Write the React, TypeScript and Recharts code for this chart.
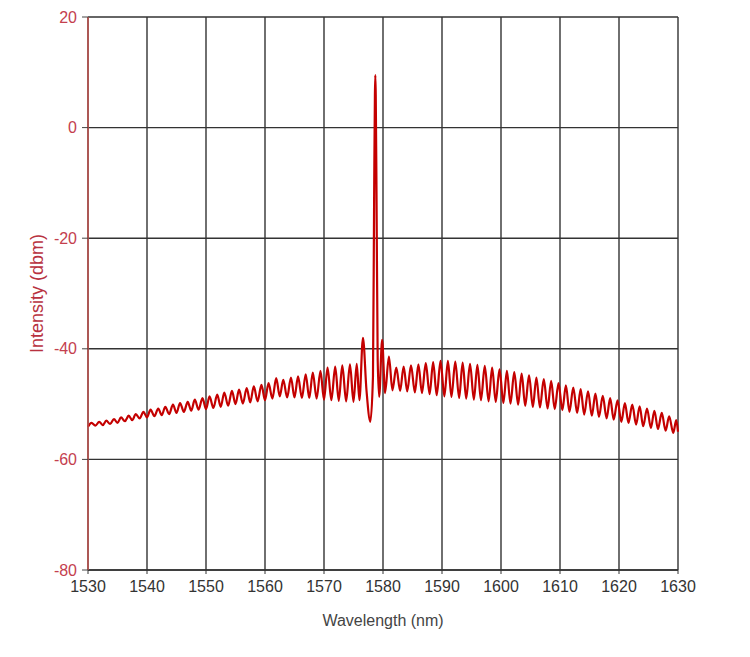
import React from "react";
import {
  LineChart,
  Line,
  XAxis,
  YAxis,
  CartesianGrid,
} from "recharts";

// wavelength (nm) of each read point: troughs and crests of the ripple
const wavelengths = [
  1530, 1530.6, 1531.25, 1531.9, 1532.5, 1533.1, 1533.75, 1534.4, 1535, 1535.6,
  1536.25, 1536.9, 1537.5, 1538.1, 1538.75, 1539.4, 1540, 1540.6, 1541.25, 1541.9,
  1542.5, 1543.1, 1543.75, 1544.4, 1545, 1545.6, 1546.25, 1546.9, 1547.5, 1548.1,
  1548.75, 1549.4, 1550, 1550.6, 1551.25, 1551.9, 1552.5, 1553.1, 1553.75, 1554.4,
  1555, 1555.6, 1556.25, 1556.9, 1557.5, 1558.1, 1558.75, 1559.4, 1560, 1560.6,
  1561.25, 1561.9, 1562.5, 1563.1, 1563.75, 1564.4, 1565, 1565.6, 1566.25, 1566.9,
  1567.5, 1568.1, 1568.75, 1569.4, 1570, 1570.6, 1571.25, 1571.9, 1572.5, 1573.1,
  1573.75, 1574.4, 1575, 1575.55, 1576.0, 1576.6, 1577.2, 1577.85,
  1578.3, 1578.5, 1578.63, 1578.7, 1578.77, 1578.9, 1579.1, 1579.35,
  1579.85, 1580.35, 1581.0, 1581.6,
  1582.25, 1582.9, 1583.5, 1584.1, 1584.75, 1585.4, 1586, 1586.6, 1587.25, 1587.9,
  1588.5, 1589.1, 1589.75, 1590.4, 1591, 1591.6, 1592.25, 1592.9, 1593.5, 1594.1,
  1594.75, 1595.4, 1596, 1596.6, 1597.25, 1597.9, 1598.5, 1599.1, 1599.75, 1600.4,
  1601, 1601.6, 1602.25, 1602.9, 1603.5, 1604.1, 1604.75, 1605.4, 1606, 1606.6,
  1607.25, 1607.9, 1608.5, 1609.1, 1609.75, 1610.4, 1611, 1611.6, 1612.25, 1612.9,
  1613.5, 1614.1, 1614.75, 1615.4, 1616, 1616.6, 1617.25, 1617.9, 1618.5, 1619.1,
  1619.75, 1620.4, 1621, 1621.6, 1622.25, 1622.9, 1623.5, 1624.1, 1624.75, 1625.4,
  1626, 1626.6, 1627.25, 1627.9, 1628.5, 1629.2, 1629.7, 1630,
];

// intensity (dBm) read at each wavelength above
const intensity = [
  -54.1, -53.4, -53.9, -53.2, -53.8, -53.0, -53.6, -52.7, -53.4, -52.4,
  -53.1, -52.1, -52.9, -51.8, -52.6, -51.4, -52.4, -51.0, -52.2, -50.8,
  -52.0, -50.5, -51.8, -50.1, -51.6, -49.8, -51.4, -49.6, -51.2, -49.2,
  -51.0, -48.9, -50.9, -48.6, -50.7, -48.3, -50.5, -47.9, -50.3, -47.6,
  -50.0, -47.4, -49.9, -47.1, -49.7, -46.8, -49.5, -46.5, -49.3, -46.2,
  -49.0, -45.3, -48.6, -45.6, -48.8, -45.2, -48.8, -45.0, -48.9, -44.6,
  -48.9, -44.3, -49.0, -44.0, -49.2, -43.4, -49.3, -43.2, -49.4, -43.0,
  -49.5, -42.8, -49.6, -42.7, -49.3, -38.0, -47.5, -53.2,
  -45.0, -12.0, 6.0, 9.5, 6.0, -12.0, -42.0, -48.7,
  -38.4, -48.0, -41.4, -47.5,
  -43.4, -47.6, -43.2, -47.7, -43.0, -47.9, -42.8, -48.0, -42.6, -48.2,
  -42.4, -48.4, -42.2, -48.6, -42.2, -48.7, -42.3, -48.9, -42.5, -49.0,
  -42.7, -49.2, -42.9, -49.3, -43.1, -49.5, -43.4, -49.6, -43.7, -49.8,
  -44.0, -49.9, -44.2, -50.1, -44.5, -50.3, -44.8, -50.5, -45.2, -50.6,
  -45.5, -50.8, -45.8, -50.9, -46.2, -51.1, -46.6, -51.4, -47.0, -51.6,
  -47.3, -51.9, -47.7, -52.1, -48.1, -52.3, -48.5, -52.6, -48.9, -52.8,
  -49.3, -53.2, -49.8, -53.4, -50.1, -53.7, -50.4, -54.0, -50.8, -54.3,
  -51.2, -54.5, -51.6, -54.8, -52.2, -55.2, -52.9, -55.0,
];

const xTicks = [1530, 1540, 1550, 1560, 1570, 1580, 1590, 1600, 1610, 1620, 1630];
const yTicks = [-80, -60, -40, -20, 0, 20];

const data = wavelengths.map((wl, i) => ({ wl, dbm: intensity[i] }));

const FONT = '"Liberation Sans", Arial, sans-serif';

const App: React.FC = () => {
  return (
    <div style={{ position: "absolute", left: 0, top: 0, background: "#fff" }}>
      <LineChart
        width={750}
        height={657}
        data={data}
        margin={{ top: 17, right: 72, bottom: 27, left: 48 }}
      >
        <CartesianGrid stroke="#333" strokeWidth={1.4} />
        <XAxis
          dataKey="wl"
          type="number"
          domain={[1530, 1630]}
          ticks={xTicks}
          interval={0}
          height={60}
          tickSize={4}
          tickMargin={7}
          axisLine={{ stroke: "#333", strokeWidth: 1.4 }}
          tickLine={{ stroke: "#333" }}
          tick={{ fill: "#333", fontSize: 16, fontFamily: FONT }}
          label={{
            value: "Wavelength (nm)",
            position: "insideBottom",
            offset: 4,
            style: { fill: "#444", fontSize: 16, fontFamily: FONT },
          }}
        />
        <YAxis
          type="number"
          domain={[-80, 20]}
          ticks={yTicks}
          interval={0}
          width={40}
          tickSize={6}
          tickMargin={5}
          axisLine={{ stroke: "#c0504d", strokeWidth: 1.5 }}
          tickLine={{ stroke: "#444" }}
          tick={{ fill: "#c4404e", fontSize: 16, fontFamily: FONT }}
          label={{
            value: "Intensity (dbm)",
            angle: -90,
            position: "left",
            offset: 11,
            style: {
              fill: "#b8323f",
              fontSize: 18,
              fontFamily: FONT,
              textAnchor: "middle",
            },
          }}
        />
        <Line
          type="monotone"
          dataKey="dbm"
          stroke="#c40000"
          strokeWidth={2.2}
          dot={false}
          isAnimationActive={false}
        />
      </LineChart>
    </div>
  );
};

export default App;
